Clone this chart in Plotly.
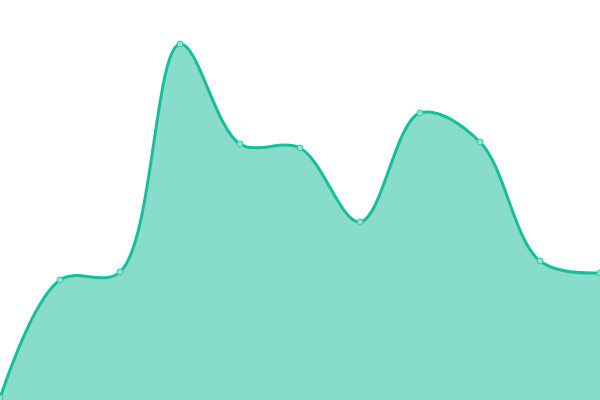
import plotly.graph_objects as go

# values (pixel height from the bottom)
x_pos = [0, 1, 2, 3, 4, 5, 6, 7, 8, 9, 10]
values = [2, 120, 128, 356, 256, 252, 178, 287, 258, 139, 127]

fig = go.Figure()
fig.add_trace(go.Scatter(x=x_pos, y=values, mode="lines+markers",
                         fill="tozeroy", fillcolor="rgba(26,188,156,0.52)",
                         line=dict(color="#1abc9c", width=3, shape="spline", smoothing=1),
                         marker=dict(size=6, color="#8ee3d1",
                                     line=dict(color="#3cc4a8", width=1))))
fig.update_layout(width=600, height=400, margin=dict(l=0, r=0, t=0, b=0),
                  paper_bgcolor="white", plot_bgcolor="white", showlegend=False,
                  xaxis=dict(range=[0, 10], visible=False),
                  yaxis=dict(range=[0, 400], visible=False))
# page has a default body margin, drop it so the chart fills the window
fig.write_html("out.html", config={"displayModeBar": False},
               post_script="document.body.style.margin='0';document.body.style.overflow='hidden';")
